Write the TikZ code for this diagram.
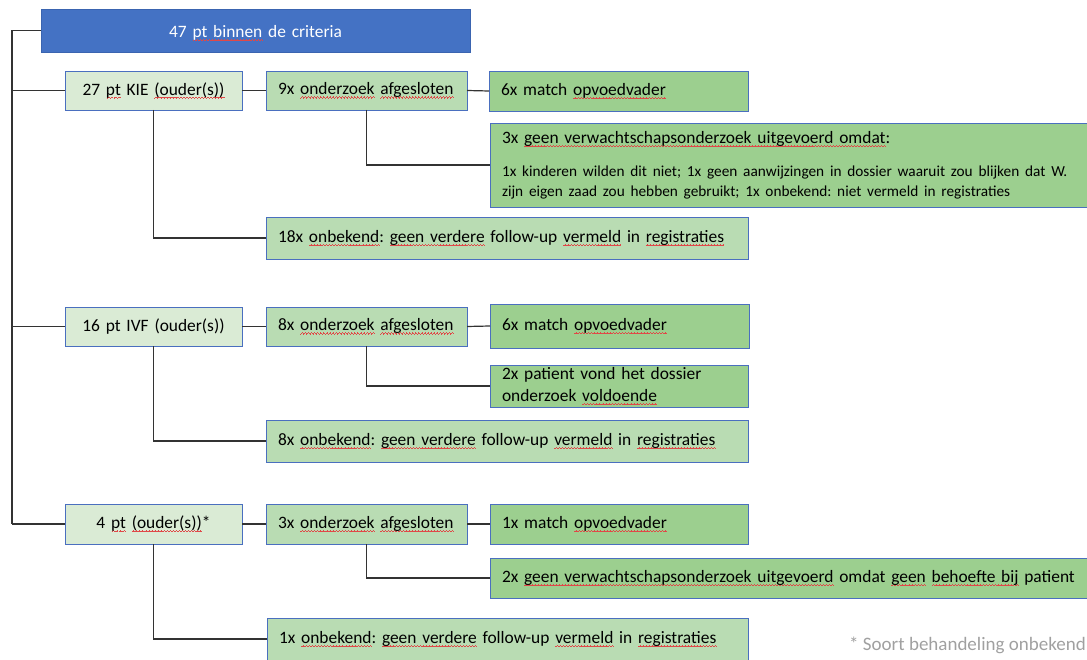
\documentclass[tikz,border=0pt]{standalone}
\usepackage{fontspec}
\setmainfont{Carlito}
\frenchspacing
\definecolor{topblue}{HTML}{4472C4}
\definecolor{topborder}{HTML}{3A64B0}
\definecolor{bordblue}{HTML}{4A6FBF}
\definecolor{lgreen}{HTML}{DAEBD5}
\definecolor{mgreen}{HTML}{B9DCB3}
\definecolor{dgreen}{HTML}{9CCF8F}
\definecolor{connc}{HTML}{333333}
\definecolor{wavered}{HTML}{E04848}
\definecolor{footgray}{HTML}{A0A0A0}
\newcommand\mainfs{\fontsize{17.4pt}{22pt}\selectfont}
\newcommand\smallfs{\fontsize{15.3pt}{20pt}\selectfont}
\newcommand\squigseg{\rule[-3.6pt]{0.75pt}{0.7pt}\rule[-3.0pt]{0.75pt}{0.7pt}\rule[-2.4pt]{0.75pt}{0.7pt}\rule[-3.0pt]{0.75pt}{0.7pt}}
\newsavebox\sqbox
\newcommand\sq[1]{\leavevmode\sbox\sqbox{#1}\rlap{\textcolor{wavered}{\hbox to \wd\sqbox{\xleaders\hbox{\squigseg}\hfill}}}\usebox\sqbox}
\begin{document}
\begin{tikzpicture}[x=1pt,y=-1pt,
  bx/.style={draw=bordblue, line width=0.9pt, anchor=north west, inner xsep=12pt, inner ysep=0pt, outer sep=0pt, align=left, font=\mainfs\frenchspacing},
  cbx/.style={bx, inner xsep=0pt, align=center},
  conn/.style={draw=connc, line width=1.2pt}]
\useasboundingbox (0,0) rectangle (1087,660);
\clip (0,0) rectangle (1087,660);

% top
\node[cbx, draw=topborder, fill=topblue, text=white, text width=429pt, minimum height=43pt] (top) at (41,9) {\raisebox{-2.5pt}[\height][\depth]{47 \sq{pt binnen} de criteria}};
\coordinate (trunk) at (12,30.5);

% row 1
\node[cbx, fill=lgreen, text width=177pt, minimum height=39pt] (k1) at (65,71) {27 \sq{pt} KIE \sq{(ouder(s))}};
\node[bx, fill=mgreen, text width=177pt, minimum height=39pt] (k2) at (266,71) {9x \sq{onderzoek} \sq{afgesloten}};
\node[bx, fill=dgreen, text width=235pt, minimum height=40pt] (k3) at (489,71) {6x match \sq{opvoedvader}};
\node[bx, fill=dgreen, text width=586pt, minimum height=84pt] (k4) at (490,123) {\mainfs 3x \sq{geen verwachtschapsonderzoek uitgevoerd omdat}:\par\smallfs\vspace{13pt}1x kinderen wilden dit niet; 1x geen aanwijzingen in dossier waaruit zou blijken dat W.\newline zijn eigen zaad zou hebben gebruikt; 1x onbekend: niet vermeld in registraties\par};
\node[bx, fill=mgreen, text width=458pt, minimum height=42pt] (k5) at (266,217) {18x \sq{onbekend}: \sq{geen verdere} follow-up \sq{vermeld} in \sq{registraties}};

% row 2
\node[cbx, fill=lgreen, text width=177pt, minimum height=39pt] (i1) at (65,307) {16 pt IVF (ouder(s))};
\node[bx, fill=mgreen, text width=177pt, minimum height=39pt] (i2) at (266,307) {8x \sq{onderzoek} \sq{afgesloten}};
\node[bx, fill=dgreen, text width=235pt, minimum height=44pt] (i3) at (490,304) {6x match \sq{opvoedvader}};
\node[bx, fill=dgreen, text width=234pt, minimum height=42pt] (i4) at (490,365) {2x patient vond het dossier\newline onderzoek \sq{voldoende}};
\node[bx, fill=mgreen, text width=458pt, minimum height=42pt] (i5) at (266,420) {8x \sq{onbekend}: \sq{geen verdere} follow-up \sq{vermeld} in \sq{registraties}};

% row 3
\node[cbx, fill=lgreen, text width=177pt, minimum height=40pt] (f1) at (65,504) {4 \sq{pt} \sq{(ouder(s))}*};
\node[bx, fill=mgreen, text width=177pt, minimum height=40pt] (f2) at (266,504) {3x \sq{onderzoek} \sq{afgesloten}};
\node[bx, fill=dgreen, text width=234pt, minimum height=40pt] (f3) at (490,504) {1x match \sq{opvoedvader}};
\node[bx, fill=dgreen, text width=596pt, minimum height=40pt] (f4) at (490,558) {2x \sq{geen verwachtschapsonderzoek uitgevoerd} omdat \sq{geen} \sq{behoefte bij} patient};
\node[bx, fill=mgreen, text width=457pt, minimum height=42pt] (f5) at (267,618) {1x \sq{onbekend}: \sq{geen verdere} follow-up \sq{vermeld} in \sq{registraties}};

% footnote
\node[anchor=base east, text=footgray, font=\fontsize{19pt}{22pt}\selectfont, inner sep=0pt] (fn) at (1086,650) {* Soort behandeling onbekend};

% connectors
\draw[conn] (top.west) -- (trunk) -- (trunk |- f1.west);
\draw[conn] (trunk |- k1.west) -- (k1.west);
\draw[conn] (trunk |- i1.west) -- (i1.west);
\draw[conn] (trunk |- f1.west) -- (f1.west);

\draw[conn] (k1.east) -- (k2.west);
\draw[conn] (k2.east) -- (k3.west);
\draw[conn] (k2.south) |- (k4.west);
\draw[conn] (k1.south) |- (k5.west);

\draw[conn] (i1.east) -- (i2.west);
\draw[conn] (i2.east) -- (i3.west);
\draw[conn] (i2.south) |- (i4.west);
\draw[conn] (i1.south) |- (i5.west);

\draw[conn] (f1.east) -- (f2.west);
\draw[conn] (f2.east) -- (f3.west);
\draw[conn] (f2.south) |- (f4.west);
\draw[conn] (f1.south) |- (f5.west);
\end{tikzpicture}
\end{document}
